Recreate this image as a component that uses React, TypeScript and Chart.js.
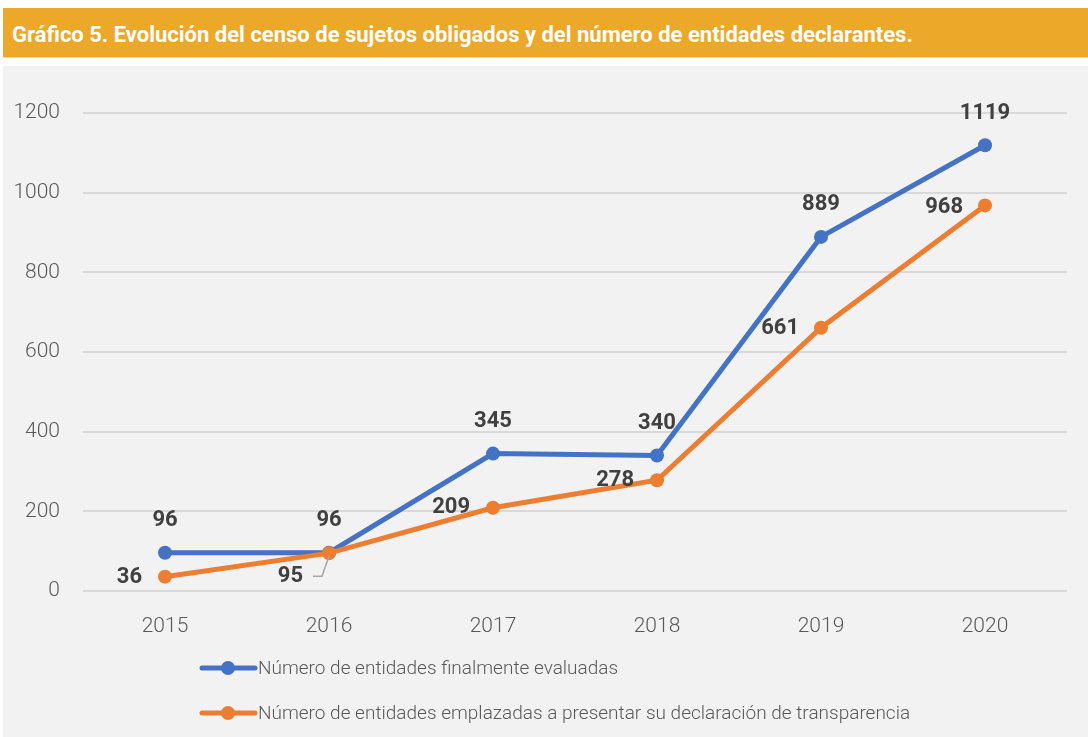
import React, { useEffect, useRef } from "react";
import { Chart, registerables } from "chart.js";

Chart.register(...registerables);

const years = ["2015", "2016", "2017", "2018", "2019", "2020"];
const evaluadas = [96, 96, 345, 340, 889, 1119];
const emplazadas = [36, 95, 209, 278, 661, 968];
const seriesNames = [
  "Número de entidades finalmente evaluadas",
  "Número de entidades emplazadas a presentar su declaración de transparencia",
];
const yTicks = [0, 200, 400, 600, 800, 1000, 1200];
const titleText =
  "Gráfico 5. Evolución del censo de sujetos obligados y del número de entidades declarantes.";

const BLUE = "#4472C4";
const ORANGE = "#ED7D31";
const FONT = "'Liberation Sans Narrow', 'Roboto', sans-serif";

// label placement styles (offsets in px relative to the point)
const orangeLabelDx = [-23, -26, -23, -23, -22, -22];
const orangeLabelDy = [1, 23, 0, 0, 1, 2];
const blueLabelDy = -32;

const labelsPlugin = {
  id: "customLabels",
  afterDatasetsDraw(chart: any) {
    const ctx = chart.ctx;
    ctx.save();
    ctx.font = `bold 22px ${FONT}`;
    ctx.fillStyle = "#404040";
    ctx.textBaseline = "middle";
    const m0 = chart.getDatasetMeta(0);
    m0.data.forEach((pt: any, i: number) => {
      ctx.textAlign = "center";
      ctx.fillText(String(evaluadas[i]), pt.x, pt.y + blueLabelDy);
    });
    const m1 = chart.getDatasetMeta(1);
    m1.data.forEach((pt: any, i: number) => {
      ctx.textAlign = "right";
      const tx = pt.x + orangeLabelDx[i];
      const ty = pt.y + orangeLabelDy[i];
      ctx.fillText(String(emplazadas[i]), tx, ty);
      if (i === 1) {
        ctx.strokeStyle = "#A6A6A6";
        ctx.lineWidth = 1.5;
        ctx.beginPath();
        ctx.moveTo(tx + 10, ty);
        ctx.lineTo(tx + 19, ty);
        ctx.lineTo(pt.x, pt.y + 3);
        ctx.stroke();
      }
    });
    ctx.restore();
  },
  afterDraw(chart: any) {
    const ctx = chart.ctx;
    ctx.save();
    const colors = [BLUE, ORANGE];
    const ys = [602, 647];
    ctx.font = `300 19px ${FONT}`;
    ctx.textBaseline = "middle";
    ctx.textAlign = "left";
    for (let i = 0; i < 2; i++) {
      const y = ys[i];
      ctx.strokeStyle = colors[i];
      ctx.lineWidth = 5;
      ctx.lineCap = "round";
      ctx.beginPath();
      ctx.moveTo(199, y);
      ctx.lineTo(252, y);
      ctx.stroke();
      ctx.fillStyle = colors[i];
      ctx.beginPath();
      ctx.arc(225, y, 7, 0, Math.PI * 2);
      ctx.fill();
      ctx.fillStyle = "#595959";
      ctx.fillText(seriesNames[i], 255, y + 1);
    }
    ctx.restore();
  },
};

export default function App() {
  const ref = useRef<HTMLCanvasElement | null>(null);
  useEffect(() => {
    if (!ref.current) return;
    const chart = new Chart(ref.current, {
      type: "line",
      data: {
        labels: years,
        datasets: [
          {
            label: seriesNames[0],
            data: evaluadas,
            borderColor: BLUE,
            backgroundColor: BLUE,
            borderWidth: 5,
            pointRadius: 7,
            pointHoverRadius: 7,
            pointBorderWidth: 0,
            order: 2,
          },
          {
            label: seriesNames[1],
            data: emplazadas,
            borderColor: ORANGE,
            backgroundColor: ORANGE,
            borderWidth: 5,
            pointRadius: 7,
            pointHoverRadius: 7,
            pointBorderWidth: 0,
            order: 1,
          },
        ],
      },
      options: {
        responsive: false,
        animation: false,
        layout: { padding: { top: 47, right: 21, left: 0, bottom: 0 } },
        plugins: {
          legend: { display: false },
          tooltip: { enabled: false },
          title: { display: false },
        },
        scales: {
          x: {
            offset: true,
            grid: { display: false, drawTicks: false },
            border: { display: false },
            ticks: {
              padding: 23,
              color: "#595959",
              font: { family: FONT, size: 21, weight: "300" },
            },
            afterFit: (s: any) => {
              s.height = 146;
            },
          },
          y: {
            min: 0,
            max: 1200,
            afterBuildTicks: (s: any) => {
              s.ticks = yTicks.map((v) => ({ value: v }));
            },
            grid: { color: "#D9D9D9", lineWidth: 2, drawTicks: false },
            border: { display: false },
            ticks: {
              padding: 23,
              color: "#595959",
              font: { family: FONT, size: 21, weight: "300" },
              callback: (v: any) => String(v),
            },
            afterFit: (s: any) => {
              s.width = 80;
            },
          },
        },
      },
      plugins: [labelsPlugin],
    });
    return () => chart.destroy();
  }, []);

  return (
    <div
      style={{
        position: "absolute",
        left: 0,
        top: 0,
        width: 1088,
        height: 737,
        background: "#ffffff",
        overflow: "hidden",
      }}
    >
      <div
        style={{
          position: "absolute",
          left: 3,
          top: 8,
          width: 1085,
          height: 50,
          background: "#ECA829",
          borderBottom: "1px solid #F6D79A",
          boxSizing: "border-box",
        }}
      >
        <div
          style={{
            position: "absolute",
            left: 9,
            top: 14,
            color: "#ffffff",
            fontFamily: FONT,
            fontWeight: "bold",
            fontSize: 22,
            lineHeight: "26px",
            whiteSpace: "nowrap",
          }}
        >
          {titleText}
        </div>
      </div>
      <div
        style={{
          position: "absolute",
          left: 3,
          top: 66,
          width: 1085,
          height: 671,
          background: "#F2F2F2",
        }}
      >
        <canvas ref={ref} width={1085} height={671} style={{ display: "block" }} />
      </div>
    </div>
  );
}
